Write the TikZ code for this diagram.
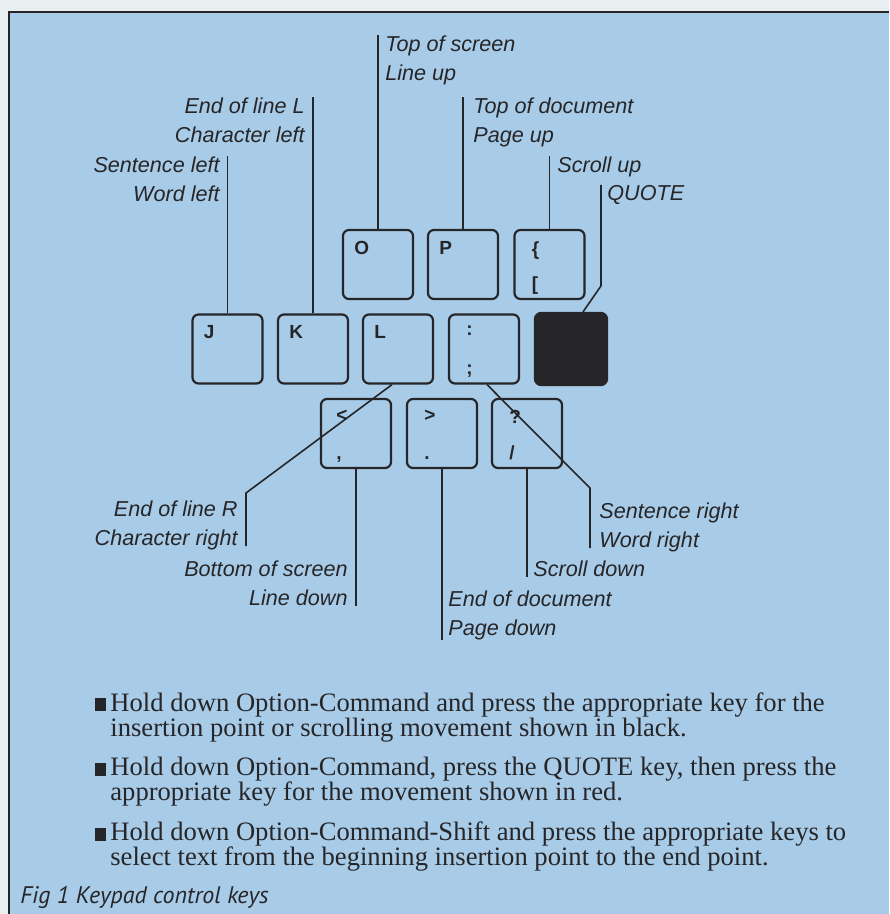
\documentclass[tikz,border=0pt]{standalone}
\usepackage{fontspec}
\setmainfont{Liberation Serif}
\setsansfont{Liberation Sans}
\newfontfamily\figcapfont{PT Sans}
\usepackage{tikz}
\usetikzlibrary{positioning}
\definecolor{panel}{HTML}{A8CBE7}
\definecolor{paper}{HTML}{E9EEF0}
\definecolor{ink}{HTML}{262628}
\newcommand{\sqbul}{\llap{\rule{5.5pt}{6.5pt}\kern2pt}}

\begin{document}
\begin{tikzpicture}[x=0.5pt, y=-0.5pt,
 keyc/.style={draw=ink, line width=1.1pt, rounded corners=3pt, minimum width=35pt, minimum height=34.5pt, inner sep=0pt},
 glyph/.style={inner sep=0pt, text=ink, font=\sffamily\bfseries\fontsize{9.5}{10}\selectfont},
 ktop/.style={label={[glyph, anchor=north west, xshift=6pt, yshift=-6pt]north west:{#1}}},
 kbot/.style={label={[glyph, anchor=base west, xshift=6pt, yshift=5pt]south west:{#1}}},
 lbl/.style={inner sep=0pt, text=ink, font=\sffamily\itshape\fontsize{10.8}{14.6}\selectfont},
 note/.style={inner sep=0pt, text=ink, align=left, font=\rmfamily\fontsize{13.3}{12.5}\selectfont},
 wire/.style={draw=ink, line width=0.8pt}]
\useasboundingbox (0,0) rectangle (889,914);
\fill[paper] (0,0) rectangle (889,914);
\fill[panel] (9,12) rectangle (889,914);
\draw[ink, line width=1pt] (889,12) -- (9,12) -- (9,914);

% keys
\node[keyc, ktop=O] (kO) at (378,264.5) {};
\node[keyc, ktop=P] (kP) at (463,264.5) {};
\node[keyc, ktop={\kern3pt\{}, kbot={\kern3pt[}] (kbr) at (549.5,264.5) {};
\node[keyc, ktop=J] (kJ) at (227.5,349) {};
\node[keyc, ktop=K] (kK) at (313,349) {};
\node[keyc, ktop=L] (kL) at (398,349) {};
\node[keyc, ktop={\kern3pt:}, kbot={\kern3pt;}] (ksc) at (484,349) {};
\node[keyc, fill=ink, minimum width=36pt, minimum height=36pt] (kq) at (571,349) {};
\node[keyc, ktop={\kern2pt<}, kbot={\kern2pt,}] (kcm) at (356,433.5) {};
\node[keyc, ktop={\kern3pt>}, kbot={\kern3pt.}] (kdt) at (442,433.5) {};
\node[keyc, ktop={\kern3pt?}, kbot={\kern3pt/}] (ksl) at (527,433.5) {};

% callouts
\node[lbl, anchor=north west, align=left] (tos) at (385,35) {Top of screen\\Line up};
\node[lbl, anchor=north west, align=left] (tod) at (473,97) {Top of document\\Page up};
\node[lbl, anchor=north west] (scu) at (557,156) {Scroll up};
\node[lbl, anchor=north west] (quo) at (607,185) {QUOTE};
\node[lbl, anchor=north east, align=right] (eoll) at (305,97) {End of line L\\Character left};
\node[lbl, anchor=north east, align=right] (snl) at (220,156) {Sentence left\\Word left};
\node[lbl, anchor=north east, align=right] (eolr) at (238,500) {End of line R\\Character right};
\node[lbl, anchor=north east, align=right] (bos) at (348,560) {Bottom of screen\\Line down};
\node[lbl, anchor=north west, align=left] (eod) at (448,590) {End of document\\Page down};
\node[lbl, anchor=north west] (scd) at (533,560) {Scroll down};
\node[lbl, anchor=north west, align=left] (snr) at (599,502) {Sentence right\\Word right};

\draw[wire] (kO.north) -- (kO.north |- tos.north);
\draw[wire] (kP.north) -- (kP.north |- tod.north);
\draw[wire] (kbr.north) -- (kbr.north |- scu.north);
\draw[wire] ([xshift=6pt]kq.north) -- ++(9pt,13pt) -- ([xshift=-3pt]quo.north west);
\draw[wire] (kK.north) -- (kK.north |- eoll.north);
\draw[wire] (kJ.north) -- (kJ.north |- snl.north);
\draw[wire] ([xshift=-3pt]kL.south) -- ([shift={(4pt,3.5pt)}]eolr.north east) -- ([shift={(4pt,2pt)}]eolr.south east);
\draw[wire] (kcm.south) -- (kcm.south |- bos.south);
\draw[wire] (kdt.south) -- (kdt.south |- eod.south);
\draw[wire] (ksl.south) -- (ksl.south |- scd.south);
\draw[wire] ([xshift=1.5pt]ksc.south) -- ([shift={(-4.5pt,7pt)}]snr.north west) -- ([shift={(-4.5pt,2pt)}]snr.south west);

% notes
\node[note, anchor=north west] (b1) at (110,692) {\sqbul Hold down Option-Command and press the appropriate key for the\\insertion point or scrolling movement shown in black.};
\node[note, below right=7.3pt and 0pt of b1.south west] (b2) {\sqbul Hold down Option-Command, press the QUOTE key, then press the\\appropriate key for the movement shown in red.};
\node[note, below right=7.3pt and 0pt of b2.south west] (b3) {\sqbul Hold down Option-Command-Shift and press the appropriate keys to\\select text from the beginning insertion point to the end point.};
\node[anchor=west, inner sep=0pt, text=ink, font=\figcapfont\itshape\fontsize{12}{12}\selectfont] (cap) at (20,897) {Fig 1 Keypad control keys};
\end{tikzpicture}
\end{document}
